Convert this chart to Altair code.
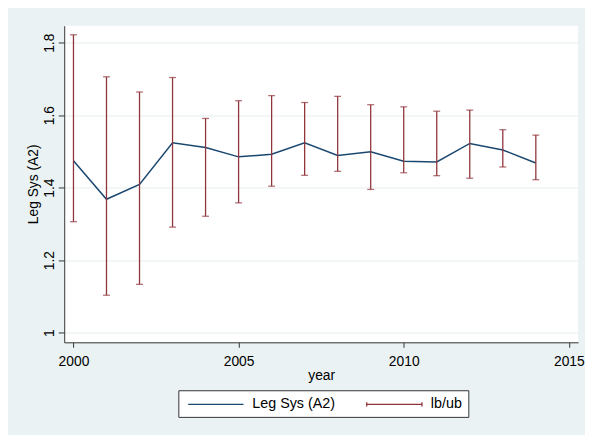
import altair as alt
import pandas as pd

years = list(range(2000, 2015))
mean_vals = [1.474, 1.368, 1.409, 1.524, 1.511, 1.485, 1.492, 1.524, 1.489, 1.499, 1.473, 1.471, 1.522, 1.504, 1.468]
ub_vals = [1.822, 1.706, 1.664, 1.704, 1.591, 1.640, 1.654, 1.635, 1.652, 1.629, 1.623, 1.611, 1.614, 1.560, 1.545]
lb_vals = [1.306, 1.103, 1.133, 1.291, 1.321, 1.358, 1.404, 1.434, 1.445, 1.395, 1.441, 1.433, 1.426, 1.457, 1.422]
series_names = ["Leg Sys (A2)", "lb/ub"]
series_colors = ["#1A476F", "#90353B"]
x_ticks = [2000, 2005, 2010, 2015]
y_ticks = [1, 1.2, 1.4, 1.6, 1.8]

df_line = pd.DataFrame({"year": years, "value": mean_vals, "series": series_names[0]})
df_err = pd.DataFrame({"year": years, "lb": lb_vals, "ub": ub_vals, "series": series_names[1]})

FONT = "Liberation Sans"

x_enc = alt.X(
    "year:Q",
    scale=alt.Scale(domain=[1999.72, 2015.28], nice=False, zero=False),
    axis=alt.Axis(values=x_ticks, format="d", title="year", grid=False,
                  tickSize=5, labelPadding=7, titlePadding=1),
)
y_axis = alt.Axis(values=y_ticks, format=".1~f", title="Leg Sys (A2)", grid=True,
                  labelAngle=270, labelAlign="center", labelBaseline="bottom",
                  tickSize=6, labelPadding=2, titleX=-31, titleY=160.3,
                  titleAlign="center", titleBaseline="middle", titleAngle=270)
y_scale = alt.Scale(domain=[0.973, 1.847], nice=False, zero=False)

sym_expr = ("datum.value == 'lb/ub' ? 'M-4,-0.3L-4,0.3M-4,0L4,0M4,-0.3L4,0.3' "
            ": 'M-4,0L4,0'")

color_enc = alt.Color(
    "series:N",
    scale=alt.Scale(domain=series_names, range=series_colors),
    legend=alt.Legend(
        orient="none", legendX=115.7, legendY=369.6, direction="horizontal",
        title=None, fillColor="white", strokeColor="#333333", padding=6,
        symbolType={"expr": sym_expr}, symbolSize=196, symbolStrokeWidth=1.3,
        symbolOffset=24,
        labelFontSize=14.5, labelFont=FONT, labelColor="black", labelOffset=29,
        columnPadding=28,
    ),
)

line = alt.Chart(df_line).mark_line(strokeWidth=1.5).encode(
    x=x_enc,
    y=alt.Y("value:Q", scale=y_scale, axis=y_axis),
    color=color_enc,
)

rules = alt.Chart(df_err).mark_rule(strokeWidth=1.3).encode(
    x=x_enc,
    y=alt.Y("lb:Q", scale=y_scale, axis=y_axis),
    y2="ub:Q",
    color=alt.Color("series:N"),
)

caps_lo = alt.Chart(df_err).mark_tick(orient="horizontal", size=7, thickness=1.3, color=series_colors[1]).encode(
    x=x_enc,
    y=alt.Y("lb:Q", scale=y_scale, axis=y_axis),
)
caps_hi = alt.Chart(df_err).mark_tick(orient="horizontal", size=7, thickness=1.3, color=series_colors[1]).encode(
    x=x_enc,
    y=alt.Y("ub:Q", scale=y_scale, axis=y_axis),
)

chart = alt.layer(line, rules, caps_lo, caps_hi).properties(
    width=521, height=321,
    autosize=alt.AutoSizeParams(type="none"),
    padding={"left": 57, "top": 15, "right": 7, "bottom": 91},
    background="#EAF2F3",
).configure_view(
    fill="white", strokeWidth=0,
).configure_axis(
    domainColor="#333333", tickColor="#333333", domainWidth=1, tickWidth=1,
    labelFont=FONT, labelFontSize=14, labelColor="black",
    titleFont=FONT, titleFontSize=14, titleColor="black", titleFontWeight="normal",
    gridColor="#E6EDEE", gridWidth=1,
)

chart.save("out.html", embed_options={"renderer": "svg", "actions": False})
